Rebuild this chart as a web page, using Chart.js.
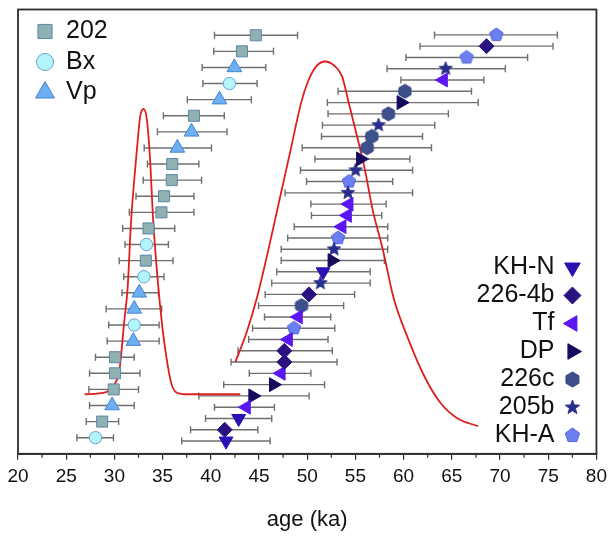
<!DOCTYPE html>
<html>
<head>
<meta charset="utf-8">
<script src="https://cdn.jsdelivr.net/npm/chart.js@4.4.0/dist/chart.umd.min.js"></script>
<style>
  html, body { margin: 0; padding: 0; background: #fff; }
  #wrap { width: 613px; height: 536px; }
</style>
</head>
<body>
<div id="wrap"><canvas id="chart"></canvas></div>
<script>
// left stack, top row first
const leftSeries = ['202','202','Vp','Bx','Vp','202','Vp','Vp','202','202','202','202','202',
  'Bx','202','Bx','Vp','Vp','Bx','Vp','202','202','202','Vp','202','Bx'];
const leftAge  = [44.67,43.23,42.44,41.93,40.9,38.25,38.0,36.53,36.0,35.95,35.15,34.88,33.54,
  33.33,33.26,33.06,32.58,32.06,32.06,31.96,30.07,30.07,29.93,29.76,28.73,28.04];
const leftLow  = [40.38,40.3,39.1,39.18,37.56,35.08,34.46,33.09,33.43,32.99,32.24,31.55,30.86,
  31.1,30.5,30.96,30.79,29.14,29.41,29.25,28.04,27.42,27.35,27.42,27.08,26.11];
const leftHigh = [49.0,46.5,45.7,44.8,44.2,41.4,41.68,40.07,38.76,39.04,38.25,38.25,36.26,
  35.6,36.08,35.15,34.57,34.9,34.64,34.64,32.06,32.65,32.5,32.06,30.44,29.9];

// right stack, top row first
const rightSeries = ['KH-A','226-4b','KH-A','205b','Tf','226c','DP','226c','205b','226c','226c','DP',
  '205b','KH-A','205b','Tf','Tf','Tf','KH-A','205b','DP','KH-N','205b','226-4b','226c','Tf','KH-A',
  'Tf','226-4b','226-4b','Tf','DP','DP','Tf','KH-N','226-4b','KH-N'];
const rightAge  = [69.62,68.6,66.53,64.36,64.12,60.13,59.74,58.42,57.4,56.7,56.22,55.54,
  55.02,54.33,54.23,54.33,54.16,53.6,53.2,52.78,52.58,51.65,51.37,50.18,49.41,49.07,48.63,
  48.04,47.63,47.63,47.29,46.5,44.36,43.68,42.89,41.44,41.58];
const rightLow  = [63.2,61.7,60.24,58.28,59.72,53.2,52.09,52.16,51.58,51.48,49.48,50.8,
  49.3,49.93,47.7,50.38,50.44,48.66,47.97,47.3,47.3,46.84,46.32,45.64,44.95,45.57,44.33,
  43.92,42.82,42.1,43.99,41.34,38.76,40.38,39.45,37.9,36.98];
const rightHigh = [75.95,75.5,72.86,70.55,68.32,67.04,67.73,64.64,63.23,61.96,62.89,60.65,
  60.93,58.87,60.93,58.18,57.73,58.35,58.35,58.35,58.0,56.53,56.53,54.92,53.78,52.44,52.86,
  52.16,52.6,53.1,50.38,51.8,50.2,46.6,46.32,44.88,46.15];

// red probability curves (age, relative density)
const curveLeftAge  = [26.91,29.14,30.0,30.52,31.03,31.37,31.72,32.32,32.68,33.02,33.35,33.68,
  34.02,34.57,34.98,35.39,35.85,36.36,37.39,43.06];
const curveLeftDens = [0.134,0.139,0.156,0.189,0.300,0.372,0.520,0.681,0.760,0.776,0.755,0.670,
  0.526,0.372,0.284,0.218,0.163,0.139,0.134,0.134];
const curveRightAge  = [42.55,43.71,44.77,45.98,47.11,48.25,49.38,50.10,50.93,51.86,52.78,53.61,
  54.23,55.05,55.95,56.80,57.84,58.97,60.41,62.16,63.81,65.57,67.73];
const curveRightDens = [0.207,0.273,0.350,0.460,0.570,0.681,0.791,0.839,0.872,0.883,0.874,0.850,
  0.797,0.725,0.643,0.548,0.460,0.350,0.262,0.174,0.115,0.080,0.062];

const leftNames  = ['202','Bx','Vp'];
const rightNames = ['KH-N','226-4b','Tf','DP','226c','205b','KH-A'];

function shapeCanvas(kind, fill, stroke, size) {
  const c = document.createElement('canvas');
  c.width = size; c.height = size;
  const g = c.getContext('2d');
  const cx = size / 2, cy = size / 2, R = size / 2 - 1;
  const n = kind === 'hex' ? 6 : 5;
  g.beginPath();
  if (kind === 'star') {
    for (let k = 0; k < 10; k++) {
      const a = -Math.PI / 2 + k * Math.PI / 5;
      const r = k % 2 ? R * 0.42 : R;
      g.lineTo(cx + r * Math.cos(a), cy + r * Math.sin(a));
    }
  } else {
    for (let k = 0; k < n; k++) {
      const a = -Math.PI / 2 + k * 2 * Math.PI / n;
      g.lineTo(cx + R * Math.cos(a), cy + R * Math.sin(a));
    }
  }
  g.closePath();
  g.fillStyle = fill; g.fill();
  g.strokeStyle = stroke; g.lineWidth = 1; g.stroke();
  return c;
}

const looks = {
  '202':    { style: 'rect',     fill: '#8FB1B1', line: '#5E86A8', r: 7.8, rot: 0,   lr: 10 },
  'Bx':     { style: 'circle',   fill: '#B2F5FA', line: '#6C9ED2', r: 6.2, rot: 0,   lr: 8.5 },
  'Vp':     { style: 'triangle', fill: '#6CAFF2', line: '#4884CF', r: 8.5, rot: 0,   lr: 11 },
  'KH-N':   { style: 'triangle', fill: '#2B10B4', line: '#2B10B4', r: 8,   rot: 180, lr: 9 },
  '226-4b': { style: 'rectRot',  fill: '#2A1380', line: '#2A1380', r: 7.5, rot: 0,   lr: 8.5 },
  'Tf':     { style: 'triangle', fill: '#5A17F2', line: '#5A17F2', r: 8,   rot: 270, lr: 9 },
  'DP':     { style: 'triangle', fill: '#150A5C', line: '#150A5C', r: 8,   rot: 90,  lr: 9 },
  '226c':   { shape: 'hex',  fill: '#3D508C', line: '#33457C', size: 16, lsize: 17 },
  '205b':   { shape: 'star', fill: '#262D8C', line: '#262D8C', size: 16, lsize: 17 },
  'KH-A':   { shape: 'pent', fill: '#6C7FF2', line: '#5566D6', size: 16, lsize: 17 }
};
Object.keys(looks).forEach(k => {
  const s = looks[k];
  if (s.shape) {
    s.style = shapeCanvas(s.shape, s.fill, s.line, s.size);
    s.legendStyle = shapeCanvas(s.shape, s.fill, s.line, s.lsize);
    s.r = s.size / 2; s.rot = 0;
  }
});

function rows(names, age, lo, hi, name) {
  const out = [];
  names.forEach((n, i) => {
    if (n === name) out.push({ x: age[i], y: names.length - i, lo: lo[i], hi: hi[i] });
  });
  return out;
}

function pointSet(name, data, axis) {
  const s = looks[name];
  return {
    label: name, data: data, yAxisID: axis, errorBars: true,
    pointStyle: s.style, pointRadius: s.r, pointRotation: s.rot,
    backgroundColor: s.fill, borderColor: s.line, borderWidth: 1,
    showLine: false
  };
}

const datasets = [];
rightNames.forEach(n => datasets.push(pointSet(n, rows(rightSeries, rightAge, rightLow, rightHigh, n), 'yR')));
leftNames.forEach(n => datasets.push(pointSet(n, rows(leftSeries, leftAge, leftLow, leftHigh, n), 'yL')));
[[curveLeftAge, curveLeftDens], [curveRightAge, curveRightDens]].forEach(c => {
  datasets.push({
    type: 'line', data: c[0].map((a, i) => ({ x: a, y: c[1][i] })), yAxisID: 'yc',
    borderColor: '#E01E1E', borderWidth: 1.8, pointRadius: 0, fill: false,
    cubicInterpolationMode: 'monotone'
  });
});

const errorBars = {
  id: 'errorBars',
  beforeDatasetsDraw(chart) {
    const ctx = chart.ctx, xs = chart.scales.x;
    ctx.save();
    ctx.strokeStyle = '#6F6F6F';
    ctx.lineWidth = 1.4;
    chart.data.datasets.forEach(ds => {
      if (!ds.errorBars) return;
      const ys = chart.scales[ds.yAxisID];
      ds.data.forEach(p => {
        const y = ys.getPixelForValue(p.y);
        const x1 = xs.getPixelForValue(p.lo), x2 = xs.getPixelForValue(p.hi);
        ctx.beginPath();
        ctx.moveTo(x1, y); ctx.lineTo(x2, y);
        ctx.moveTo(x1, y - 3.5); ctx.lineTo(x1, y + 3.5);
        ctx.moveTo(x2, y - 3.5); ctx.lineTo(x2, y + 3.5);
        ctx.stroke();
      });
    });
    ctx.restore();
  }
};

const frameAndLegend = {
  id: 'frameAndLegend',
  afterDraw(chart) {
    const ctx = chart.ctx, a = chart.chartArea, xs = chart.scales.x;
    ctx.save();
    ctx.strokeStyle = '#2c2c2c';
    ctx.lineWidth = 1.8;
    ctx.strokeRect(a.left, a.top, a.right - a.left, a.bottom - a.top);
    // minor ticks
    ctx.lineWidth = 1.2;
    ctx.beginPath();
    for (let v = 22.5; v < 80; v += 5) {
      const x = xs.getPixelForValue(v);
      ctx.moveTo(x, a.bottom); ctx.lineTo(x, a.bottom + 4);
    }
    ctx.stroke();

    ctx.font = '25px "Liberation Sans", Arial, sans-serif';
    ctx.textBaseline = 'middle';
    ctx.fillStyle = '#111';
    const mark = (name, x, y) => {
      const s = looks[name];
      ctx.save();
      ctx.fillStyle = s.fill; ctx.strokeStyle = s.line; ctx.lineWidth = 1;
      Chart.helpers.drawPoint(ctx, {
        pointStyle: s.legendStyle || s.style, radius: s.lr || s.r,
        rotation: s.rot, borderWidth: 1
      }, x, y);
      ctx.restore();
    };
    leftNames.forEach((n, i) => {
      const y = a.top + 22 + i * 30.5;
      mark(n, a.left + 27, y);
      ctx.textAlign = 'left';
      ctx.fillText(n, a.left + 48, y);
    });
    rightNames.forEach((n, i) => {
      const y = a.top + 258 + i * 28;
      mark(n, a.right - 24, y);
      ctx.textAlign = 'right';
      ctx.fillText(n, a.right - 42, y);
    });
    ctx.restore();
  }
};

const fontFam = '"Liberation Sans", Arial, sans-serif';
new Chart(document.getElementById('chart'), {
  type: 'scatter',
  data: { datasets: datasets },
  plugins: [errorBars, frameAndLegend],
  options: {
    responsive: true,
    maintainAspectRatio: false,
    animation: false,
    layout: { padding: { left: 18, right: 12, top: 5, bottom: 2 } },
    plugins: { legend: { display: false }, tooltip: { enabled: false } },
    scales: {
      x: {
        type: 'linear', min: 20, max: 80,
        ticks: { stepSize: 5, padding: 6, color: '#111', font: { family: fontFam, size: 19 } },
        grid: { drawOnChartArea: false, drawTicks: true, tickLength: 6, color: '#2c2c2c', lineWidth: 1.2 },
        border: { display: true, color: '#2c2c2c', width: 1.8 },
        title: { display: true, text: 'age (ka)', color: '#111',
          font: { family: fontFam, size: 22 }, padding: { top: 12, bottom: 1 } }
      },
      yL: { type: 'linear', min: 0, max: 27.6, display: false },
      yR: { type: 'linear', min: -0.13, max: 39.25, display: false },
      yc: { type: 'linear', min: 0, max: 1, display: false }
    }
  }
});
</script>
</body>
</html>
